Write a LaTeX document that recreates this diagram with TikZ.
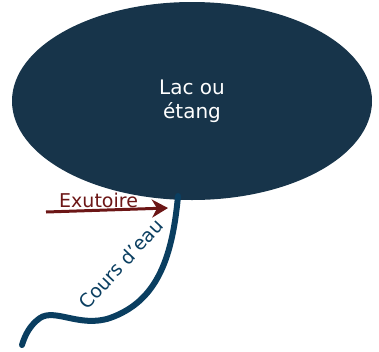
\documentclass[tikz,border=0pt]{standalone}
\usepackage{fontspec}
\setmainfont{DejaVu Sans}
\usetikzlibrary{arrows.meta,shapes.geometric}
\definecolor{lacbleu}{RGB}{23,52,74}
\definecolor{rivbleu}{RGB}{10,62,96}
\definecolor{exurouge}{RGB}{108,22,22}
\tikzset{
  lac/.style={ellipse, fill=lacbleu, text=white, align=center, inner sep=0pt,
    minimum width=360pt, minimum height=198pt, font=\fontsize{20pt}{24pt}\selectfont},
  riviere/.style={draw=rivbleu, line width=6pt, line cap=round},
  sortie/.style={draw=exurouge, line width=3pt, -{Stealth[length=16pt,width=18pt,inset=5pt]}}
}
\begin{document}
\begin{tikzpicture}[x=1pt,y=-1pt]
	\useasboundingbox (0,0) rectangle (379,351);
	\node (lac)[lac] at (192,101) {Lac ou\\étang};
	\coordinate (source) at (178,196);
	\coordinate (mouth) at (22,345);
	\coordinate (exu) at (46,212);
	\coordinate (exutip) at (168,208);

	% cours d'eau
	\draw [riviere](source) .. controls (172,262) and (155,302) .. (110,318)
		.. controls (80,328) and (55,308) .. (40,318)
		.. controls (30,325) and (25,335) .. (mouth);
	\node (cours)[text=rivbleu, rotate=47, font=\fontsize{19pt}{22pt}\selectfont] at (121,264) {Cours d'eau};

	% exutoire
	\node (exulab)[text=exurouge, anchor=base west, inner sep=0pt, font=\fontsize{19pt}{22pt}\selectfont] at (59,207) {Exutoire};
	\draw [sortie](exu) -- (exutip);
\end{tikzpicture}
\end{document}
